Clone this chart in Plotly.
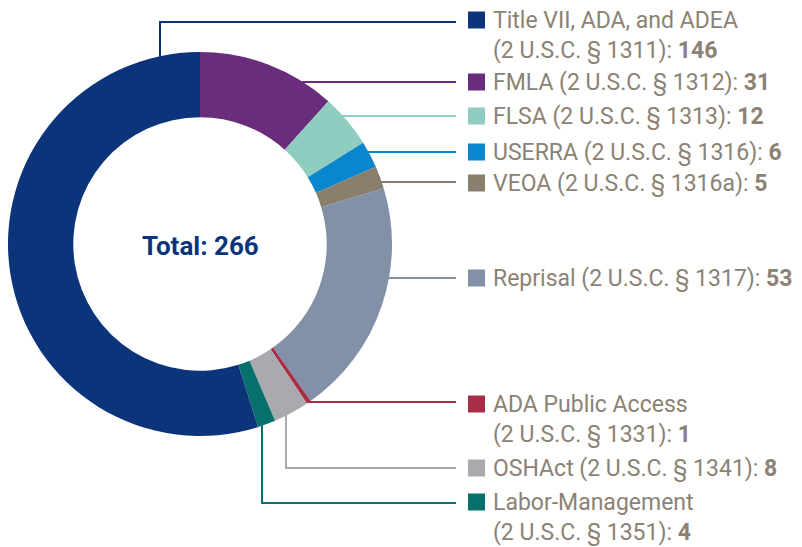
import plotly.graph_objects as go
import math

# ---- data (legend order) ----
labels = ["Title VII, ADA, and ADEA", "FMLA", "FLSA", "USERRA", "VEOA",
          "Reprisal", "ADA Public Access", "OSHAct", "Labor-Management"]
citations = ["2 U.S.C. § 1311", "2 U.S.C. § 1312", "2 U.S.C. § 1313", "2 U.S.C. § 1316",
             "2 U.S.C. § 1316a", "2 U.S.C. § 1317", "2 U.S.C. § 1331", "2 U.S.C. § 1341",
             "2 U.S.C. § 1351"]
values = [146, 31, 12, 6, 5, 53, 1, 8, 4]
colors = ["#0b347a", "#6a2d7b", "#8fcdc1", "#0a86cc", "#8a7f6d",
          "#8290a8", "#a82e48", "#a9aaae", "#06706c"]
two_line = [True, False, False, False, False, False, True, False, True]

# page has an 8px body margin: figure is drawn in a 794x539 box offset by 8px
OFF = 8
W, H = 802 - OFF, 547 - OFF
CX, CY, R = 200, 244, 192
HOLE = 0.66
TEXT_COLOR = "#8b8273"
FONT = "Roboto"
FS = 23

def px(x):
    return (x - OFF) / W

def py(y):
    return 1 - (y - OFF) / H

# pie order: start at 12 o'clock with FMLA, Title VII last
order = list(range(1, len(values))) + [0]

fig = go.Figure(go.Pie(
    labels=[labels[i] for i in order],
    values=[values[i] for i in order],
    marker=dict(colors=[colors[i] for i in order], line=dict(width=0)),
    hole=HOLE, sort=False, direction="clockwise", rotation=0,
    textinfo="none", hoverinfo="skip",
    domain=dict(x=[px(CX - R), px(CX + R)], y=[py(CY + R), py(CY - R)]),
))

# legend rows: row centre y (first line), leader geometry
row_y = [20, 82, 116, 152, 183, 278, 404, 468, 502]
leader = [("v", 160, 22), ("h", 82), ("h", 116), ("h", 152), ("h", 182),
          ("h", 278), ("h", 402), ("v", 286, 468), ("v", 262, 503)]
LINE_END = 456
SQ_X0, SQ = 468, 17
TEXT_X = 491

shapes = []
annotations = []
for i in range(len(values)):
    c = colors[i]
    ld = leader[i]
    if ld[0] == "h":
        y = ld[1]
        x0 = CX + math.sqrt(R * R - (y - CY) ** 2) - 1
        shapes.append(dict(type="line", xref="paper", yref="paper",
                           x0=px(x0), x1=px(LINE_END), y0=py(y), y1=py(y),
                           line=dict(color=c, width=2)))
    else:
        x, y = ld[1], ld[2]
        dy = math.sqrt(R * R - (x - CX) ** 2)
        y0 = CY - dy + 1 if y < CY else CY + dy - 1
        shapes.append(dict(type="path", xref="paper", yref="paper",
                           path=f"M {px(x)} {py(y0)} L {px(x)} {py(y)} L {px(LINE_END)} {py(y)}",
                           line=dict(color=c, width=2)))
    cy = row_y[i]
    shapes.append(dict(type="rect", xref="paper", yref="paper",
                       x0=px(SQ_X0), x1=px(SQ_X0 + SQ), y0=py(cy - SQ / 2), y1=py(cy + SQ / 2),
                       fillcolor=c, line=dict(width=0)))
    sep = "<br>" if two_line[i] else " "
    txt = f"{labels[i]}{sep}({citations[i]}): <b>{values[i]}</b>"
    annotations.append(dict(
        xref="paper", yref="paper", x=px(TEXT_X), y=py(cy - 14.8),
        xanchor="left", yanchor="top", align="left", showarrow=False,
        text=txt, font=dict(family=FONT, size=FS, color=TEXT_COLOR)))

annotations.append(dict(xref="paper", yref="paper", x=px(CX), y=py(246),
                        xanchor="center", yanchor="middle", showarrow=False,
                        text=f"<b>Total: {sum(values)}</b>",
                        font=dict(family=FONT, size=26, color="#0b347a")))

fig.update_layout(width=W, height=H, margin=dict(l=0, r=0, t=0, b=0),
                  paper_bgcolor="white", plot_bgcolor="white", showlegend=False,
                  shapes=shapes, annotations=annotations)

fig.write_html("out.html")
